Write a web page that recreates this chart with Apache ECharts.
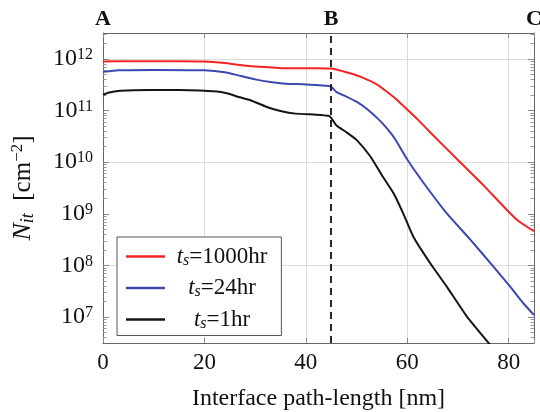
<!DOCTYPE html>
<html>
<head>
<meta charset="utf-8">
<script src="https://cdn.jsdelivr.net/npm/echarts@6/dist/echarts.min.js"></script>
<style>html,body{margin:0;padding:0;background:#fff}#c{width:540px;height:412px}</style>
</head>
<body>
<div id="c"></div>
<script>
// ---- data (N_it in cm^-2 vs interface path-length in nm) ----
const x1000 = [0, 5, 10, 15, 20, 24, 27, 30, 33.5, 36, 40, 44, 45, 46, 48, 50, 52, 54, 56, 58, 60.2, 62, 65, 70, 75, 80, 82, 85];
const n1000 = [8.9e11, 9.0e11, 9.0e11, 9.0e11, 8.9e11, 8.3e11, 7.6e11, 7.1e11, 6.8e11, 6.6e11, 6.6e11, 6.5e11, 6.5e11, 6.2e11, 5.5e11, 4.8e11, 4.0e11, 3.2e11, 2.3e11, 1.6e11, 1.0e11, 6.8e10, 3.4e10, 1.1e10, 3.6e9, 1.1e9, 7.2e8, 4.6e8];

const x24 = [0, 3, 10, 20, 24, 27, 30, 33, 36, 40, 44, 45, 46, 48, 50, 52, 54.3, 56, 57.6, 60.2, 63.2, 67.8, 72.4, 77, 80.3, 82.9, 85];
const n24 = [5.6e11, 6.0e11, 6.1e11, 6.0e11, 5.5e11, 4.7e11, 4.0e11, 3.55e11, 3.3e11, 3.2e11, 3.0e11, 2.9e11, 2.3e11, 1.86e11, 1.48e11, 1.08e11, 6.8e10, 4.5e10, 2.8e10, 1.05e10, 4.0e9, 1.02e9, 3.2e8, 9.5e7, 3.9e7, 1.86e7, 1.1e7];

const x1 = [0, 1, 3.4, 9, 15, 19, 22, 24.4, 27, 29, 32.3, 35, 38, 42, 44.5, 45, 46, 48, 50, 52.7, 55, 57.3, 59.2, 61.2, 64.5, 67.8, 71.7, 76.5];
const n1 = [2.0e11, 2.2e11, 2.4e11, 2.5e11, 2.5e11, 2.45e11, 2.35e11, 2.15e11, 1.8e11, 1.6e11, 1.17e11, 9.8e10, 8.7e10, 8.3e10, 7.9e10, 7.2e10, 5.2e10, 3.8e10, 2.7e10, 1.3e10, 5.6e9, 2.5e9, 1.02e9, 3.6e8, 1.12e8, 3.9e7, 1.05e7, 2.8e6];

const seriesHours = ['1000hr', '24hr', '1hr'];
const xTicks = [0, 20, 40, 60, 80];
const yDecades = [7, 8, 9, 10, 11, 12];          // exponents labelled 10^n
const pointLabels = ['A', 'B', 'C'];
const pointPositions = [0, 45, 85];
const xRange = [0, 85];
const yRange = [6.5, 12.5];                        // log10 extent

// ---- helpers ----
const FONT = "'Liberation Serif', 'DejaVu Serif', serif";
const toPairs = (xs, ns) => xs.map((x, i) => [x, Math.log10(ns[i])]);
const minorTicks = [];
for (let e = Math.floor(yRange[0]); e <= Math.ceil(yRange[1]); e++) {
  for (let k = 2; k <= 9; k++) {
    const v = e + Math.log10(k);
    if (v > yRange[0] && v < yRange[1]) minorTicks.push(v);
  }
}
const colors = ['#f52424', '#3a48b0', '#141414'];

const legendRich = {
  t: { fontFamily: FONT, fontSize: 23, fontStyle: 'italic', align: 'center', lineHeight: 24, color: '#111' },
  s: { fontFamily: FONT, fontSize: 16, fontStyle: 'italic', align: 'center', verticalAlign: 'bottom', lineHeight: 12, color: '#111' },
  r: { fontFamily: FONT, fontSize: 23, align: 'center', lineHeight: 24, color: '#111' }
};

const baseY = {
  type: 'value', min: yRange[0], max: yRange[1], interval: 0.5,
  axisLabel: { show: false }, splitLine: { show: false }, axisLine: { show: false }
};

const option = {
  animation: false,
  backgroundColor: '#fff',
  grid: { left: 103, top: 33, width: 431, height: 310, containLabel: false, outerBoundsMode: 'none' },
  legend: {
    orient: 'vertical', left: 117, top: 237,
    padding: [8, 14, 4, 9], itemGap: 8,
    itemWidth: 39, itemHeight: 2.5, icon: 'rect',
    backgroundColor: '#fff', borderColor: '#555', borderWidth: 1, borderRadius: 0,
    selectedMode: false,
    formatter: name => '{t|t}{s|s}{r|=' + name.split('=')[1] + '}',
    textStyle: { width: 104, rich: legendRich }
  },
  xAxis: [
    {
      type: 'value', position: 'bottom', min: xRange[0], max: xRange[1], interval: 20,
      axisLine: { show: true, lineStyle: { color: '#666', width: 1 } },
      axisTick: { show: true, inside: true, length: 5, lineStyle: { color: '#888' } },
      splitLine: { show: true, lineStyle: { color: '#dcdcdc', width: 1 } },
      axisLabel: { fontFamily: FONT, fontSize: 23, color: '#111', margin: 8,
        customValues: xTicks, formatter: v => String(v) },
      name: 'Interface path-length [nm]', nameLocation: 'middle', nameGap: 44,
      nameTextStyle: { fontFamily: FONT, fontSize: 24, color: '#111' }
    },
    {
      type: 'value', position: 'top', min: xRange[0], max: xRange[1], interval: 20,
      axisLine: { show: true, lineStyle: { color: '#666', width: 1 } },
      axisTick: { show: true, inside: true, length: 5, lineStyle: { color: '#888' } },
      splitLine: { show: false },
      axisLabel: { show: true, margin: 3, customValues: pointPositions,
        fontFamily: FONT, fontSize: 22, fontWeight: 'bold', color: '#111',
        formatter: v => pointLabels[pointPositions.indexOf(v)] || '' }
    }
  ],
  yAxis: [
    {
      type: 'value', position: 'left', min: yRange[0], max: yRange[1], interval: 0.5,
      axisLine: { show: true, lineStyle: { color: '#666', width: 1 } },
      axisTick: { show: true, inside: true, length: 6, customValues: yDecades, lineStyle: { color: '#888' } },
      splitLine: { show: true, lineStyle: { color: ['transparent', '#dcdcdc'], width: 1 } },
      axisLabel: {
        customValues: yDecades, margin: 10,
        formatter: v => '{b|10}{sup|' + v + '}',
        rich: {
          b: { fontFamily: FONT, fontSize: 24, color: '#111', lineHeight: 24 },
          sup: { fontFamily: FONT, fontSize: 16, color: '#111', verticalAlign: 'top', lineHeight: 13 }
        }
      },
      name: '{n|N}{sub|it}{r|  [cm}{sup|\u22122}{r|]}',
      nameLocation: 'middle', nameRotate: 90, nameGap: 66,
      nameTextStyle: {
        rich: {
          n: { fontFamily: FONT, fontSize: 26, fontStyle: 'italic', color: '#111', lineHeight: 28 },
          sub: { fontFamily: FONT, fontSize: 18, fontStyle: 'italic', color: '#111', verticalAlign: 'bottom', lineHeight: 15 },
          r: { fontFamily: FONT, fontSize: 25, color: '#111', lineHeight: 28 },
          sup: { fontFamily: FONT, fontSize: 17, color: '#111', verticalAlign: 'top', lineHeight: 15 }
        }
      }
    },
    Object.assign({}, baseY, { position: 'left',
      axisTick: { show: true, inside: true, length: 3.5, customValues: minorTicks, lineStyle: { color: '#999' } } }),
    Object.assign({}, baseY, { position: 'right',
      axisLine: { show: true, lineStyle: { color: '#666', width: 1 } },
      axisTick: { show: true, inside: true, length: 6, customValues: yDecades, lineStyle: { color: '#888' } } }),
    Object.assign({}, baseY, { position: 'right',
      axisTick: { show: true, inside: true, length: 3.5, customValues: minorTicks, lineStyle: { color: '#999' } } })
  ],
  series: [
    { name: 't_s=' + seriesHours[0], data: toPairs(x1000, n1000) },
    { name: 't_s=' + seriesHours[1], data: toPairs(x24, n24) },
    { name: 't_s=' + seriesHours[2], data: toPairs(x1, n1),
      markLine: {
        silent: true, symbol: ['none', 'none'], label: { show: false },
        lineStyle: { color: '#111', type: [7, 5], width: 1.8 },
        data: [{ xAxis: pointPositions[1] }]
      } }
  ].map((s, i) => Object.assign({
    type: 'line', xAxisIndex: 0, yAxisIndex: 0, showSymbol: false, symbol: 'none',
    smooth: 0.15, clip: true,
    lineStyle: { color: colors[i], width: 2, join: 'round' }, itemStyle: { color: colors[i] }
  }, s))
};

const chart = echarts.init(document.getElementById('c'), null, { renderer: 'canvas' });
chart.setOption(option);
</script>
</body>
</html>
